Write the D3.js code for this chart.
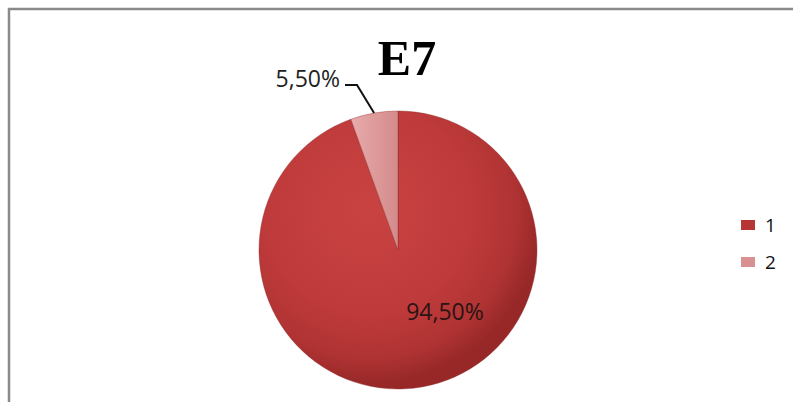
<!DOCTYPE html>
<html><head><meta charset="utf-8">
<script src="https://cdn.jsdelivr.net/npm/d3@7"></script>
<style>body{margin:0;background:#fff}svg{display:block}</style>
</head><body>
<script>
const categories = ["1", "2"];
const values = [94.5, 5.5];
const labels = ["94,50%", "5,50%"];
const title = "E7";

const W = 793, H = 402;
const svg = d3.select("body").append("svg").attr("width", W).attr("height", H);
const defs = svg.append("defs");

// frame
svg.append("path").attr("d", `M9,${H} L9,9 L${W},9`).attr("fill", "none")
  .attr("stroke", "#8a8a8a").attr("stroke-width", 2.5);

const cx = 398, cy = 250, r = 139;

const g1 = defs.append("radialGradient").attr("id", "g1").attr("gradientUnits", "userSpaceOnUse")
  .attr("cx", -30).attr("cy", -40).attr("r", r * 1.25);
g1.append("stop").attr("offset", "0%").attr("stop-color", "#c94343");
g1.append("stop").attr("offset", "60%").attr("stop-color", "#bf3a3a");
g1.append("stop").attr("offset", "85%").attr("stop-color", "#b03333");
g1.append("stop").attr("offset", "100%").attr("stop-color", "#982828");
const g2 = defs.append("linearGradient").attr("id", "g2").attr("x1", "0").attr("x2", "1").attr("y1", "0").attr("y2", "0");
g2.append("stop").attr("offset", "0%").attr("stop-color", "#e8abab");
g2.append("stop").attr("offset", "100%").attr("stop-color", "#d48a8a");
const fills = ["url(#g1)", "url(#g2)"];

const pie = d3.pie().sort(null).value(d => d);
const arcs = pie(values);
const arc = d3.arc().innerRadius(0).outerRadius(r);
const gp = svg.append("g").attr("transform", `translate(${cx},${cy})`);
gp.selectAll("path").data(arcs).join("path")
  .attr("d", arc).attr("fill", (d, i) => fills[i])
  .attr("stroke", "#8f2a2a").attr("stroke-width", 0.8).attr("stroke-opacity", 0.5);

// title
svg.append("text").attr("x", 407).attr("y", 75).attr("text-anchor", "middle")
  .attr("font-family", "Liberation Serif, Times New Roman, serif").attr("font-weight", "bold")
  .attr("font-size", 50).attr("fill", "#000").text(title);

// label 1 inside
svg.append("text").attr("x", 445).attr("y", 320).attr("text-anchor", "middle")
  .attr("font-family", "Open Sans, sans-serif").attr("font-size", 23).attr("fill", "#2a1414")
  .text(labels[0]);

// label 2 outside with leader
const a2 = arcs[1];
const mid = (a2.startAngle + a2.endAngle) / 2;
const ex = cx + r * Math.sin(mid), ey = cy - r * Math.cos(mid);
svg.append("path").attr("d", `M${ex},${ey} L357,85 L345,85`).attr("fill", "none")
  .attr("stroke", "#111").attr("stroke-width", 2);
svg.append("text").attr("x", 340).attr("y", 87).attr("text-anchor", "end")
  .attr("font-family", "Open Sans, sans-serif").attr("font-size", 23).attr("fill", "#222")
  .text(labels[1]);

// legend
const leg = svg.append("g");
const ly = d3.scalePoint().domain(categories).range([225, 262]);
const legFill = ["#b83535", "#d89090"];
categories.forEach((c, i) => {
  leg.append("rect").attr("x", 741).attr("y", ly(c) - 5).attr("width", 14).attr("height", 10)
    .attr("fill", legFill[i]);
  leg.append("text").attr("x", 765).attr("y", ly(c) + 7).attr("font-family", "Open Sans, sans-serif")
    .attr("font-size", 19).attr("fill", "#111").text(c);
});
</script>
</body></html>
